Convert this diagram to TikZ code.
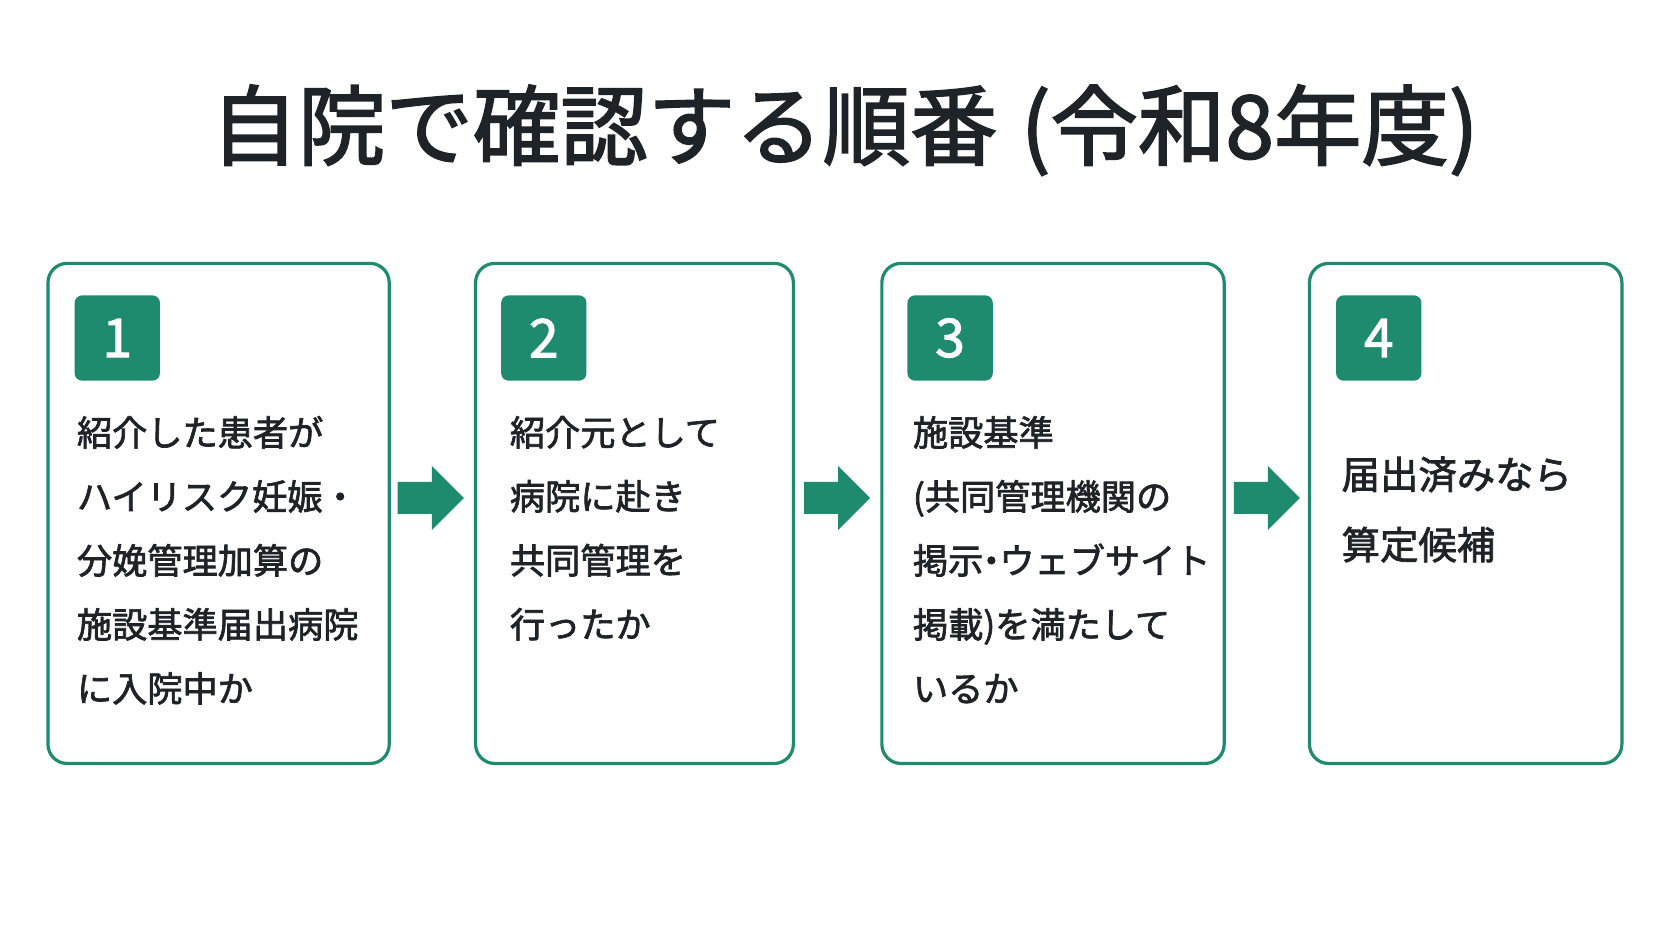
\documentclass[tikz,border=0pt]{standalone}
\usepackage{fontspec}
\newfontfamily\cjk{Noto Sans CJK JP}[FakeBold=2]
\definecolor{grn}{HTML}{1E8A6E}
\definecolor{ink}{HTML}{1E2328}
\begin{document}
\begin{tikzpicture}[x=1pt,y=-1pt,
 box/.style={draw=grn,line width=3pt,rounded corners=18pt},
 badge/.style={fill=grn,rounded corners=7pt,minimum width=80pt,minimum height=80pt,inner sep=0pt,text=white,font=\cjk\fontsize{50}{50}\selectfont},
 txt/.style={anchor=north west,align=left,inner sep=0pt,text=ink,font=\cjk\fontsize{33}{60}\selectfont},
 arrsty/.style={fill=grn}]
\useasboundingbox[fill=white] (0,0) rectangle (1568,882);
\node[text=ink,font=\cjk\fontsize{82}{82}\selectfont] (title) at (792,122) {自院で確認する順番\hspace{22pt}(令和8年度)};
\draw[box] (45,247) rectangle (365,716);
\draw[box] (446,247) rectangle (744,716);
\draw[box] (827,247) rectangle (1148,716);
\draw[box] (1228,247) rectangle (1521,716);
\node[badge] (b1) at (110,317) {1};
\node[badge] (b2) at (510,317) {2};
\node[badge] (b3) at (891,317) {3};
\node[badge] (b4) at (1293,317) {4};
\node[txt] (t1) at (72,390) {紹介した患者が\\ハイリスク妊娠・\\分娩管理加算の\\施設基準届出病院\\に入院中か};
\node[txt] (t2) at (478,390) {紹介元として\\病院に赴き\\共同管理を\\行ったか};
\node[txt] (t3) at (856,390) {施設基準\\(共同管理機関の\\掲示\hspace{-9pt}・\hspace{-9pt}ウェブサイト\\掲載)を満たして\\いるか};
\node[txt,font=\cjk\fontsize{36}{66}\selectfont] (t4) at (1258,428) {届出済みなら\\算定候補};
\foreach \n/\x in {a1/373,a2/754,a3/1157}{
 \coordinate (\n) at (\x,467);
 \fill[arrsty] (\n) ++(0,-15) -- ++(32,0) -- ++(0,-15) -- ++(30,30) -- ++(-30,30) -- ++(0,-15) -- ++(-32,0) -- cycle;
}
\end{tikzpicture}
\end{document}
